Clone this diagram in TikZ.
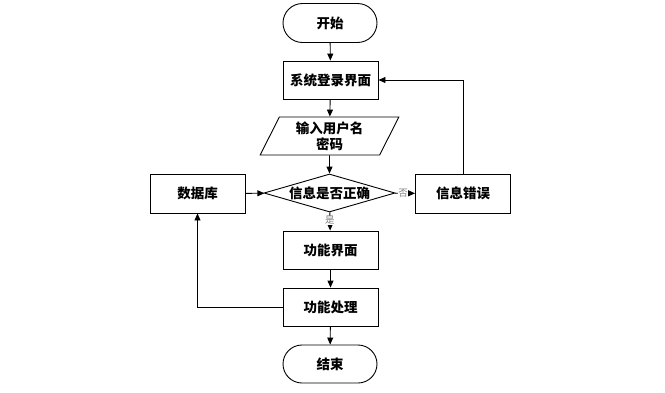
\documentclass[tikz,border=0pt]{standalone}
\usepackage{fontspec}
\newfontfamily\cjk{Noto Sans CJK SC}
\usetikzlibrary{arrows.meta,shapes.geometric,shapes.misc}
\begin{document}
\begin{tikzpicture}[x=1pt,y=-1pt,
  every node/.style={font=\cjk\bfseries\fontsize{13.5}{16}\selectfont},
  proc/.style={draw,line width=0.9pt,minimum width=95pt,minimum height=38pt,inner sep=0pt},
  term/.style={draw,line width=0.9pt,rounded rectangle,minimum width=94pt,minimum height=39pt,inner sep=0pt},
  conn/.style={line width=0.9pt,-{Triangle[length=7pt,width=6pt]}},
  lbl/.style={font=\cjk\fontsize{9.5}{10}\selectfont,text=gray,fill=white,inner sep=0.5pt}]
\useasboundingbox (0,0) rectangle (665,392);
\node[term] (start) at (330,23) {开始};
\node[proc] (login) at (330.5,80) {系统登录界面};
\node[draw,line width=0.9pt,trapezium,trapezium left angle=66,trapezium right angle=114,
  trapezium stretches=true,minimum width=139pt,minimum height=38pt,inner sep=0pt,align=center]
  (inp) at (329.5,136) {输入用户名\\密码};
\node[draw,line width=0.9pt,diamond,minimum width=131pt,minimum height=38pt,inner sep=0pt]
  (dia) at (329.5,193) {\makebox[0pt]{信息是否正确}};
\node[proc,minimum height=39pt] (db) at (197.5,193.5) {数据库};
\node[proc,minimum height=39pt] (err) at (463,193.5) {信息错误};
\node[proc] (f1) at (330.5,250) {功能界面};
\node[proc] (f2) at (330.5,307) {功能处理};
\node[term,minimum height=38pt] (end) at (330,364) {结束};
\draw[conn] (start) -- (login);
\draw[conn] (login) -- (inp);
\draw[conn] (inp) -- (dia);
\draw[conn] (db) -- (dia);
\draw[conn] (dia) -- node[lbl,pos=0.42]{否} (err);
\draw[conn] (dia) -- node[lbl,pos=0.45]{是} (f1);
\draw[conn] (err.north) |- (login.east);
\draw[conn] (f1) -- (f2);
\draw[conn] (f2) -- (end);
\draw[conn] (f2.west) -| (db.south);
\end{tikzpicture}
\end{document}
